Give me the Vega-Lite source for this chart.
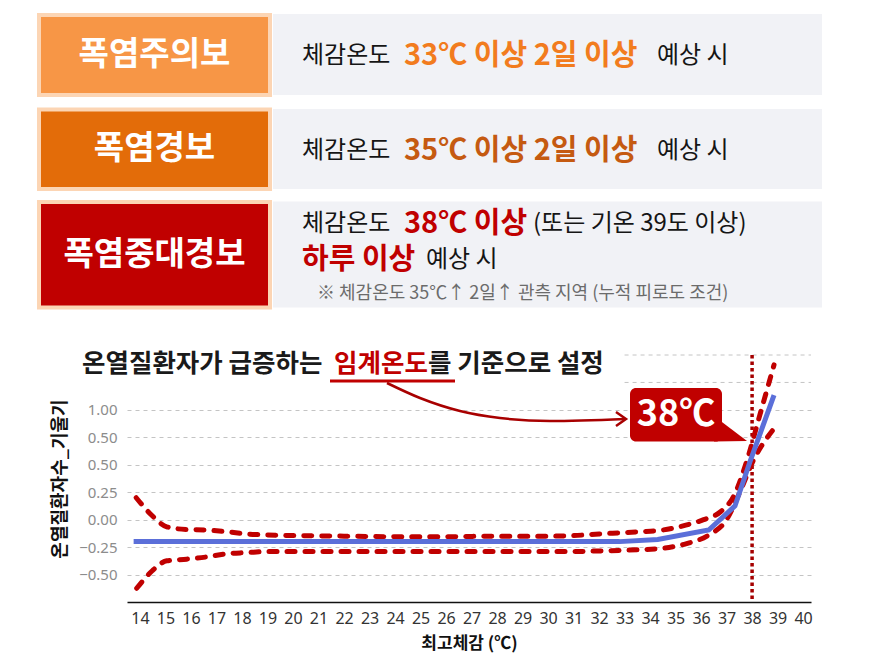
{
  "$schema": "https://vega.github.io/schema/vega-lite/v6.json",
  "width": 684,
  "height": 247,
  "autosize": {"type": "none"},
  "padding": {"left": 127, "top": 355, "right": 65, "bottom": 54},
  "background": "#ffffff",
  "config": {
    "view": {"stroke": null},
    "font": "Noto Sans CJK KR",
    "text": {"font": "Noto Sans CJK KR"}
  },
  "datasets": {
    "curve": [
      {"series": "추정", "temp": 13.75, "value": -0.2},
      {"series": "추정", "temp": 20, "value": -0.2},
      {"series": "추정", "temp": 25, "value": -0.2},
      {"series": "추정", "temp": 31, "value": -0.2},
      {"series": "추정", "temp": 32.8, "value": -0.2},
      {"series": "추정", "temp": 34.3, "value": -0.18},
      {"series": "추정", "temp": 36.3, "value": -0.094},
      {"series": "추정", "temp": 37.33, "value": 0.125},
      {"series": "추정", "temp": 37.92, "value": 0.53},
      {"series": "추정", "temp": 38.86, "value": 1.135},
      {"series": "상한", "temp": 13.85, "value": 0.2},
      {"series": "상한", "temp": 14.46, "value": 0.04},
      {"series": "상한", "temp": 15.05, "value": -0.065},
      {"series": "상한", "temp": 15.83, "value": -0.09},
      {"series": "상한", "temp": 16.6, "value": -0.095},
      {"series": "상한", "temp": 17.4, "value": -0.11},
      {"series": "상한", "temp": 18.2, "value": -0.13},
      {"series": "상한", "temp": 19, "value": -0.14},
      {"series": "상한", "temp": 20, "value": -0.145},
      {"series": "상한", "temp": 22, "value": -0.15},
      {"series": "상한", "temp": 24, "value": -0.155},
      {"series": "상한", "temp": 26, "value": -0.155},
      {"series": "상한", "temp": 28, "value": -0.15},
      {"series": "상한", "temp": 30, "value": -0.15},
      {"series": "상한", "temp": 31, "value": -0.145},
      {"series": "상한", "temp": 32, "value": -0.13},
      {"series": "상한", "temp": 32.8, "value": -0.12},
      {"series": "상한", "temp": 33.6, "value": -0.11},
      {"series": "상한", "temp": 34.5, "value": -0.094},
      {"series": "상한", "temp": 35.4, "value": -0.05},
      {"series": "상한", "temp": 36.1, "value": 0.0},
      {"series": "상한", "temp": 36.75, "value": 0.07},
      {"series": "상한", "temp": 37.27, "value": 0.21},
      {"series": "상한", "temp": 37.8, "value": 0.54},
      {"series": "상한", "temp": 38.3, "value": 0.95},
      {"series": "상한", "temp": 38.86, "value": 1.41},
      {"series": "하한", "temp": 13.87, "value": -0.625},
      {"series": "하한", "temp": 14.46, "value": -0.47},
      {"series": "하한", "temp": 15.05, "value": -0.375},
      {"series": "하한", "temp": 15.83, "value": -0.36},
      {"series": "하한", "temp": 16.6, "value": -0.34},
      {"series": "하한", "temp": 17.4, "value": -0.31},
      {"series": "하한", "temp": 18.2, "value": -0.3},
      {"series": "하한", "temp": 19, "value": -0.29},
      {"series": "하한", "temp": 22, "value": -0.29},
      {"series": "하한", "temp": 25, "value": -0.29},
      {"series": "하한", "temp": 28, "value": -0.29},
      {"series": "하한", "temp": 31, "value": -0.29},
      {"series": "하한", "temp": 32, "value": -0.285},
      {"series": "하한", "temp": 32.8, "value": -0.28},
      {"series": "하한", "temp": 34.5, "value": -0.26},
      {"series": "하한", "temp": 35.4, "value": -0.22},
      {"series": "하한", "temp": 36.3, "value": -0.14},
      {"series": "하한", "temp": 37.0, "value": 0.0},
      {"series": "하한", "temp": 37.5, "value": 0.24},
      {"series": "하한", "temp": 38.05, "value": 0.54},
      {"series": "하한", "temp": 38.86, "value": 0.83}
    ],
    "upperGrid": [
      {"temp": 33.0, "temp2": 40.31, "value": 1.25},
      {"temp": 33.0, "temp2": 40.31, "value": 1.5}
    ],
    "threshold": [
      {"temp": 38, "value": 1.5, "value2": -0.75}
    ],
    "bodyBoxes": [
      {"x": 273, "x2": 822, "y": 14, "y2": 95},
      {"x": 273, "x2": 822, "y": 109, "y2": 189},
      {"x": 273, "x2": 822, "y": 201.5, "y2": 307.5}
    ],
    "levelBoxes": [
      {"level": "폭염주의보", "x": 39, "x2": 270, "y": 15, "y2": 95},
      {"level": "폭염경보", "x": 39, "x2": 270, "y": 109.5, "y2": 189},
      {"level": "폭염중대경보", "x": 39, "x2": 270, "y": 202, "y2": 307.5}
    ],
    "levelLabels": [
      {"level": "폭염주의보", "x": 154.5, "y": 55},
      {"level": "폭염경보", "x": 154.5, "y": 149},
      {"level": "폭염중대경보", "x": 154.5, "y": 255}
    ],
    "phrases": [
      {"text": "체감온도", "tone": "기본", "x": 302, "y": 56},
      {"text": "33℃ 이상 2일 이상", "tone": "주의보", "x": 404, "y": 56},
      {"text": "예상 시", "tone": "기본", "x": 657, "y": 56},
      {"text": "체감온도", "tone": "기본", "x": 302, "y": 151},
      {"text": "35℃ 이상 2일 이상", "tone": "경보", "x": 404, "y": 151},
      {"text": "예상 시", "tone": "기본", "x": 657, "y": 151},
      {"text": "체감온도", "tone": "기본", "x": 302, "y": 224},
      {"text": "38℃ 이상", "tone": "중대경보", "x": 404, "y": 224},
      {"text": "(또는 기온 39도 이상)", "tone": "기본", "x": 533, "y": 224},
      {"text": "하루 이상", "tone": "중대경보", "x": 302, "y": 260},
      {"text": "예상 시", "tone": "기본", "x": 426, "y": 260},
      {"text": "※ 체감온도 35℃↑ 2일↑ 관측 지역 (누적 피로도 조건)", "tone": "주석", "x": 317, "y": 294},
      {"text": "온열질환자가 급증하는", "tone": "제목", "x": 82, "y": 364},
      {"text": "임계온도", "tone": "강조", "x": 334, "y": 364},
      {"text": "를 기준으로 설정", "tone": "제목", "x": 428, "y": 364},
      {"text": "38℃", "tone": "말풍선", "x": 676, "y": 415}
    ],
    "underline": [
      {"x": 330, "x2": 455, "y": 381}
    ],
    "arrowShaft": [
      {"x": 387, "y": 383},
      {"x": 420, "y": 398},
      {"x": 460, "y": 411},
      {"x": 500, "y": 418},
      {"x": 550, "y": 421},
      {"x": 625, "y": 419}
    ],
    "arrowHead": [
      {"i": 0, "x": 616, "y": 412},
      {"i": 1, "x": 626, "y": 419},
      {"i": 2, "x": 616, "y": 426}
    ],
    "callout": [
      {"x": 630, "x2": 722, "y": 388, "y2": 441.5}
    ],
    "calloutTail": [
      {"x": 714, "y": 416, "y2": 441.5},
      {"x": 747, "y": 441, "y2": 441}
    ]
  },
  "layer": [
    {
      "encoding": {
        "x": {
          "field": "temp",
          "type": "quantitative",
          "scale": {"domain": [13.49, 40.31], "nice": false, "zero": false},
          "axis": {
            "values": [14, 15, 16, 17, 18, 19, 20, 21, 22, 23, 24, 25, 26, 27, 28, 29, 30, 31, 32, 33, 34, 35, 36, 37, 38, 39, 40],
            "format": "d",
            "labelFont": "Noto Sans",
            "labelFontSize": 16,
            "labelColor": "#333333",
            "labelPadding": 8,
            "labelOverlap": false,
            "labelFlush": false,
            "ticks": false,
            "domain": true,
            "domainColor": "#111111",
            "domainWidth": 1.5,
            "grid": false,
            "title": "최고체감 (℃)",
            "titleFont": "Noto Sans CJK KR",
            "titleFontSize": 17,
            "titleFontWeight": "bold",
            "titleColor": "#111111",
            "titlePadding": 9
          }
        },
        "y": {
          "field": "value",
          "type": "quantitative",
          "scale": {"domain": [-0.75, 1.5], "nice": false, "zero": false},
          "axis": {
            "values": [-0.5, -0.25, 0, 0.25, 0.5, 0.75, 1],
            "labelExpr": "datum.value == 0.75 ? '0.50' : format(datum.value, '.2f')",
            "labelFont": "Noto Sans",
            "labelFontSize": 15,
            "labelColor": "#8c8c8c",
            "labelPadding": 10,
            "ticks": false,
            "domain": false,
            "grid": true,
            "gridColor": "#c4c4c4",
            "gridDash": [4, 4],
            "title": "온열질환자수_기울기",
            "titleFont": "Noto Sans CJK KR",
            "titleFontSize": 18,
            "titleFontWeight": "bold",
            "titleColor": "#111111",
            "titlePadding": 9
          }
        }
      },
      "layer": [
        {
          "data": {"name": "upperGrid"},
          "mark": {"type": "rule", "color": "#c4c4c4", "strokeDash": [4, 4], "strokeWidth": 1},
          "encoding": {"x2": {"field": "temp2"}}
        },
        {
          "data": {"name": "threshold"},
          "mark": {"type": "rule", "color": "#a50000", "strokeDash": [3.5, 3], "strokeWidth": 3.5},
          "encoding": {"y2": {"field": "value2"}}
        },
        {
          "data": {"name": "curve"},
          "transform": [{"filter": "datum.series !== '추정'"}],
          "mark": {"type": "line", "color": "#c00000", "strokeWidth": 5, "strokeDash": [8, 10], "strokeCap": "round", "interpolate": "monotone"},
          "encoding": {"detail": {"field": "series", "type": "nominal"}}
        },
        {
          "data": {"name": "curve"},
          "transform": [{"filter": "datum.series === '추정'"}],
          "mark": {"type": "line", "color": "#5b6fd9", "strokeWidth": 5}
        }
      ]
    },
    {
      "encoding": {
        "x": {"field": "x", "type": "quantitative", "scale": {"domain": [127, 811], "nice": false, "zero": false}, "axis": null},
        "y": {"field": "y", "type": "quantitative", "scale": {"domain": [602, 355], "nice": false, "zero": false}, "axis": null}
      },
      "layer": [
        {
          "data": {"name": "bodyBoxes"},
          "mark": {"type": "rect", "color": "#f1f2f6"},
          "encoding": {"x2": {"field": "x2"}, "y2": {"field": "y2"}}
        },
        {
          "data": {"name": "levelBoxes"},
          "mark": {"type": "rect", "stroke": "#fcd5b4", "strokeWidth": 4},
          "encoding": {
            "x2": {"field": "x2"},
            "y2": {"field": "y2"},
            "fill": {
              "field": "level",
              "type": "nominal",
              "scale": {"domain": ["폭염주의보", "폭염경보", "폭염중대경보"], "range": ["#f79646", "#e36c09", "#c00000"]},
              "legend": null
            }
          }
        },
        {
          "data": {"name": "levelLabels"},
          "mark": {"type": "text", "color": "#ffffff", "fontSize": 33, "fontWeight": "bold", "align": "center", "baseline": "middle"},
          "encoding": {"text": {"field": "level"}}
        },
        {
          "data": {"name": "phrases"},
          "transform": [{"filter": "datum.tone === '기본'"}],
          "mark": {"type": "text", "color": "#151515", "fontSize": 24, "align": "left", "baseline": "middle"},
          "encoding": {"text": {"field": "text"}}
        },
        {
          "data": {"name": "phrases"},
          "transform": [{"filter": "datum.tone === '주의보' || datum.tone === '경보' || datum.tone === '중대경보'"}],
          "mark": {"type": "text", "fontSize": 29, "fontWeight": "bold", "align": "left", "baseline": "middle"},
          "encoding": {
            "text": {"field": "text"},
            "color": {
              "field": "tone",
              "type": "nominal",
              "scale": {"domain": ["주의보", "경보", "중대경보", "제목", "강조"], "range": ["#f27c1e", "#c55a11", "#c00000", "#1a1a1a", "#c00000"]},
              "legend": null
            }
          }
        },
        {
          "data": {"name": "phrases"},
          "transform": [{"filter": "datum.tone === '주석'"}],
          "mark": {"type": "text", "color": "#6b6b6b", "fontSize": 18, "align": "left", "baseline": "middle"},
          "encoding": {"text": {"field": "text"}}
        },
        {
          "data": {"name": "phrases"},
          "transform": [{"filter": "datum.tone === '제목' || datum.tone === '강조'"}],
          "mark": {"type": "text", "fontSize": 25.5, "fontWeight": "bold", "align": "left", "baseline": "middle"},
          "encoding": {
            "text": {"field": "text"},
            "color": {
              "field": "tone",
              "type": "nominal",
              "scale": {"domain": ["주의보", "경보", "중대경보", "제목", "강조"], "range": ["#f27c1e", "#c55a11", "#c00000", "#1a1a1a", "#c00000"]},
              "legend": null
            }
          }
        },
        {
          "data": {"name": "underline"},
          "mark": {"type": "rule", "color": "#c00000", "strokeWidth": 3},
          "encoding": {"x2": {"field": "x2"}}
        },
        {
          "data": {"name": "arrowShaft"},
          "mark": {"type": "line", "color": "#a80000", "strokeWidth": 2.5, "interpolate": "monotone"},
          "encoding": {}
        },
        {
          "data": {"name": "arrowHead"},
          "mark": {"type": "line", "color": "#a80000", "strokeWidth": 2.5, "strokeJoin": "miter"},
          "encoding": {"order": {"field": "i", "type": "quantitative"}}
        },
        {
          "data": {"name": "callout"},
          "mark": {"type": "rect", "color": "#c00000", "cornerRadius": 6},
          "encoding": {"x2": {"field": "x2"}, "y2": {"field": "y2"}}
        },
        {
          "data": {"name": "calloutTail"},
          "mark": {"type": "area", "color": "#c00000"},
          "encoding": {"y2": {"field": "y2"}}
        },
        {
          "data": {"name": "phrases"},
          "transform": [{"filter": "datum.tone === '말풍선'"}],
          "mark": {"type": "text", "color": "#ffffff", "fontSize": 36, "fontWeight": "bold", "align": "center", "baseline": "middle"},
          "encoding": {"text": {"field": "text"}}
        }
      ]
    }
  ],
  "resolve": {"scale": {"x": "independent", "y": "independent"}}
}
